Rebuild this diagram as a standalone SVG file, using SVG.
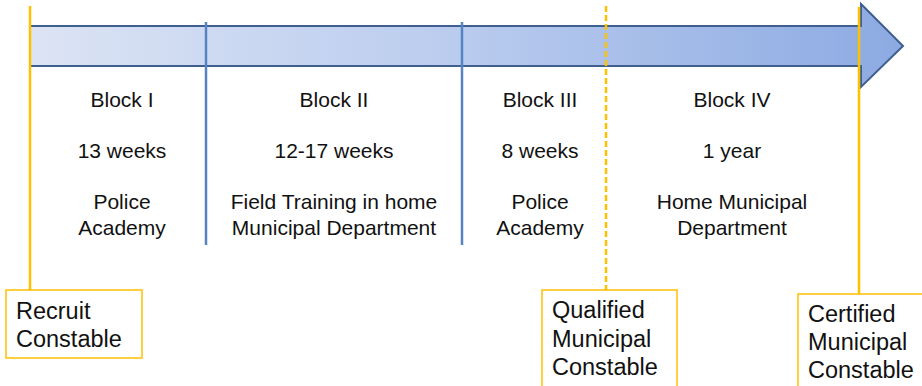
<svg xmlns="http://www.w3.org/2000/svg" width="922" height="386" viewBox="0 0 922 386">
<defs>
<linearGradient id="g" x1="30" y1="0" x2="903" y2="0" gradientUnits="userSpaceOnUse">
<stop offset="0" stop-color="#DCE4F4"/>
<stop offset="0.5" stop-color="#B9CBEE"/>
<stop offset="1" stop-color="#8CAAE2"/>
</linearGradient>
<style>
text{font-family:"Liberation Sans",Arial,sans-serif;fill:#111}
.blk{font-size:21px;text-anchor:middle}
.box{font-size:23.5px}
.bx{fill:#fff;stroke:#FFC000;stroke-width:1.5}
.sep{stroke:#5584C4;stroke-width:2.5}
.yl{stroke:#FFC000;stroke-width:2.5;fill:none}
</style>
</defs>
<g id="timeline-arrow">
<path d="M30,26 H861 V4 L903,46 L861,87 V66 H30 Z" fill="url(#g)" stroke="#3F5F8E" stroke-width="2"/>
</g>
<g id="connectors">
<line class="sep" x1="206" y1="22" x2="206" y2="245"/>
<line class="sep" x1="462" y1="22" x2="462" y2="245"/>
<line class="yl" x1="30" y1="6" x2="30" y2="290"/>
<line class="yl" x1="606" y1="6" x2="606" y2="290" stroke-dasharray="6,3"/>
<line class="yl" x1="859" y1="7" x2="859" y2="294" stroke-width="5"/>
</g>
<g id="block1">
<text class="blk" x="122" y="107">Block I</text>
<text class="blk" x="122" y="158">13 weeks</text>
<text class="blk" x="122" y="209">Police</text>
<text class="blk" x="122" y="235">Academy</text>
</g>
<g id="block2">
<text class="blk" x="334" y="107">Block II</text>
<text class="blk" x="334" y="158">12-17 weeks</text>
<text class="blk" x="334" y="209">Field Training in home</text>
<text class="blk" x="334" y="235">Municipal Department</text>
</g>
<g id="block3">
<text class="blk" x="540" y="107">Block III</text>
<text class="blk" x="540" y="158">8 weeks</text>
<text class="blk" x="540" y="209">Police</text>
<text class="blk" x="540" y="235">Academy</text>
</g>
<g id="block4">
<text class="blk" x="732" y="107">Block IV</text>
<text class="blk" x="732" y="158">1 year</text>
<text class="blk" x="732" y="209">Home Municipal</text>
<text class="blk" x="732" y="235">Department</text>
</g>
<g id="recruit">
<rect class="bx" x="6" y="290" width="136" height="68"/>
<text class="box" x="16" y="319">Recruit</text>
<text class="box" x="16" y="347">Constable</text>
</g>
<g id="qualified">
<rect class="bx" x="542" y="290" width="135" height="100"/>
<text class="box" x="552" y="318">Qualified</text>
<text class="box" x="552" y="347">Municipal</text>
<text class="box" x="552" y="375">Constable</text>
</g>
<g id="certified">
<rect class="bx" x="798" y="294" width="130" height="100"/>
<text class="box" x="808" y="322">Certified</text>
<text class="box" x="808" y="350">Municipal</text>
<text class="box" x="808" y="378">Constable</text>
</g>
</svg>
